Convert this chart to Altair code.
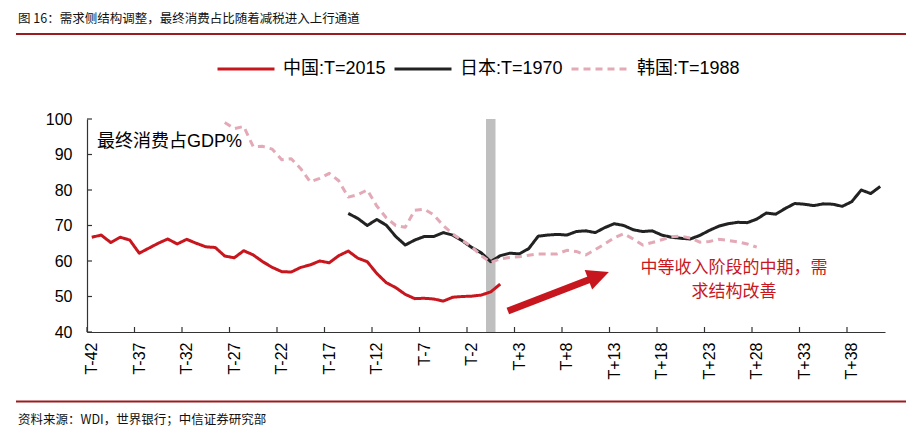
import altair as alt
import pandas as pd

# ---------------- data ----------------
china_T = list(range(-42, 2))
china_vals = [66.7, 67.3, 65.2, 66.7, 65.9, 62.2, 63.6, 65.0, 66.2, 64.8,
              66.1, 65.0, 64.0, 63.8, 61.4, 60.9, 62.9, 61.7, 59.8, 58.2,
              57.0, 56.9, 58.2, 58.9, 60.0, 59.5, 61.5, 62.8, 60.8, 59.8,
              56.5, 53.9, 52.5, 50.6, 49.4, 49.5, 49.3, 48.7, 49.8, 50.0,
              50.1, 50.4, 51.3, 53.5]
japan_T = list(range(-15, 42))
japan_vals = [73.4, 72.0, 70.0, 71.7, 70.1, 66.9, 64.5, 65.9, 66.9, 66.9,
              68.0, 67.3, 65.7, 63.8, 62.3, 59.8,
              61.5, 62.2, 62.0, 63.5, 67.0, 67.3, 67.5, 67.3, 68.3, 68.5, 68.0,
              69.4, 70.5, 70.0, 68.8, 68.3, 68.5, 67.3, 66.7, 66.4, 66.2,
              67.2, 68.6, 69.8, 70.5, 70.9, 70.8, 71.8, 73.5, 73.2, 74.8,
              76.2, 76.0, 75.6, 76.1, 76.0, 75.4, 76.7, 80.0, 79.0, 81.0]
korea_T = list(range(-28, 29))
korea_vals = [99.0, 97.3, 97.9, 92.2, 92.3, 91.5, 88.5, 88.8, 86.0, 82.3,
              83.3, 84.7, 82.6, 78.0, 78.7, 80.0,
              75.5, 72.2, 70.0, 69.5, 74.3, 74.6, 73.0, 70.0, 67.6, 65.8, 64.0, 61.5, 59.6,
              60.6, 61.0, 61.2, 61.6, 62.0, 62.0, 62.0, 63.0, 62.7, 61.7, 63.2,
              64.8, 66.5, 67.7, 66.2, 64.5, 65.2, 66.0, 66.8, 67.0, 66.5,
              65.3, 65.5, 66.1, 65.8, 65.4, 64.8, 63.9]

series_names = ["中国:T=2015", "日本:T=1970", "韩国:T=1988"]
series_colors = ["#C8161E", "#222222", "#E3A9B6"]
series_dash = [[1, 0], [1, 0], [7, 5]]
series_width = [3, 3, 3.5]

x_label_vals = list(range(-42, 39, 5))
x_tick_pos = [v - 0.5 for v in x_label_vals]
y_tick_vals = [40, 50, 60, 70, 80, 90, 100]

band_T = [-0.5]
band_T2 = [0.5]
band_lo = [40]
band_hi = [100]

arrow_T = [1.8, 11.36]
arrow_v = [45.9, 55.8]
ann_lines = ["中等收入阶段的中期，需", "求结构改善"]
ann_T = [25.6, 25.6]
ann_v = [58.0, 51.3]

title_text = "图 16：需求侧结构调整，最终消费占比随着减税进入上行通道"
source_text = "资料来源：WDI，世界银行；中信证券研究部"
ylabel_text = "最终消费占GDP%"

# ---------------- build ----------------
W, H = 798, 213
PL, PT = 87, 119
LAT = "Liberation Sans, Noto Sans CJK SC"
CJK = "Noto Sans CJK SC"
RED = "#C8161E"

rows = []
for name, ts, vs in zip(series_names, [china_T, japan_T, korea_T],
                        [china_vals, japan_vals, korea_vals]):
    for t, v in zip(ts, vs):
        rows.append({"series": name, "T": t, "value": v})
df = pd.DataFrame(rows)

xscale = alt.Scale(domain=[-42.5, 41.5], nice=False, zero=False)
yscale = alt.Scale(domain=[40, 100], nice=False, zero=False)

xaxis = alt.Axis(values=x_label_vals,
                 labelExpr="'T' + (datum.value > 0 ? '+' : '') + datum.value",
                 labelAngle=270, labelPadding=10, ticks=False, grid=False,
                 domainColor="#333", domainWidth=1.2,
                 labelFontSize=16, labelFont="Liberation Sans",
                 labelColor="#000", labelFlush=False, labelOverlap=False)
yaxis = alt.Axis(values=y_tick_vals, ticks=False, grid=False,
                 labelPadding=15, domainColor="#333", domainWidth=1.2,
                 labelFontSize=16, labelFont="Liberation Sans",
                 labelColor="#000", labelFlush=False, labelOverlap=False)

X = alt.X("T:Q", scale=xscale, title=None, axis=xaxis)
Y = alt.Y("value:Q", scale=yscale, title=None, axis=yaxis)

legend = alt.Legend(title=None, orient="none", legendX=129, legendY=-80,
                    direction="horizontal", symbolType="stroke",
                    symbolSize=3249, symbolStrokeWidth=3,
                    labelFontSize=18, labelFont=LAT, labelColor="#000",
                    columnPadding=2, labelOffset=7, padding=0, labelLimit=300)

band = alt.Chart(pd.DataFrame({"T": band_T, "T2": band_T2, "value": band_lo, "value2": band_hi})
                 ).mark_rect(color="#BFBFBF").encode(x=X, x2="T2:Q", y=Y, y2="value2:Q")

lines = alt.Chart(df).mark_line(strokeJoin="round").encode(
    x=X, y=Y,
    color=alt.Color("series:N", scale=alt.Scale(domain=series_names, range=series_colors),
                    legend=legend),
    strokeDash=alt.StrokeDash("series:N", scale=alt.Scale(domain=series_names, range=series_dash),
                              legend=legend),
    strokeWidth=alt.StrokeWidth("series:N", scale=alt.Scale(domain=series_names, range=series_width),
                                legend=None),
)

xticks = alt.Chart(pd.DataFrame({"T": x_tick_pos})).mark_rule(color="#333", strokeWidth=1.2).encode(
    x=X, y=alt.value(H), y2=alt.value(H - 5))

yticks = alt.Chart(pd.DataFrame({"value": y_tick_vals})).mark_rule(color="#333", strokeWidth=1.2).encode(
    y=Y, x=alt.value(0), x2=alt.value(5))

arrow_df = pd.DataFrame({"T": arrow_T, "value": arrow_v})
arrow_shaft = alt.Chart(arrow_df).mark_line(color=RED, strokeWidth=7, strokeCap="butt").encode(x=X, y=Y)
arrow_head = alt.Chart(arrow_df.tail(1)).mark_point(
    shape="M1,0L-1,-0.95L-1,0.95Z", filled=True, color=RED, opacity=1,
    size=480, angle=339, strokeWidth=0).encode(x=X, y=Y)

ann = alt.Chart(pd.DataFrame({"T": ann_T, "value": ann_v, "label": ann_lines})).mark_text(
    align="center", baseline="middle", fontSize=17, font=CJK, color=RED).encode(
    x=X, y=Y, text="label:N")

ylab = alt.Chart(pd.DataFrame({"label": [ylabel_text]})).mark_text(
    align="left", baseline="middle", fontSize=18, font=LAT, color="#000").encode(
    x=alt.value(97 - PL), y=alt.value(142 - PT), text="label:N")

title = alt.Chart(pd.DataFrame({"label": [title_text]})).mark_text(
    align="left", baseline="middle", fontSize=12.5, font=CJK, color="#111").encode(
    x=alt.value(18 - PL), y=alt.value(19 - PT), text="label:N")

source = alt.Chart(pd.DataFrame({"label": [source_text]})).mark_text(
    align="left", baseline="middle", fontSize=12.5, font=CJK, color="#111").encode(
    x=alt.value(18 - PL), y=alt.value(420 - PT), text="label:N")

rule_top = alt.Chart(pd.DataFrame({"k": [0]})).mark_rule(color="#9B1B1F", strokeWidth=2).encode(
    x=alt.value(16 - PL), x2=alt.value(906 - PL), y=alt.value(34 - PT))
rule_bot = alt.Chart(pd.DataFrame({"k": [0]})).mark_rule(color="#9B1B1F", strokeWidth=2).encode(
    x=alt.value(16 - PL), x2=alt.value(906 - PL), y=alt.value(401.5 - PT))

chart = alt.layer(
    band, lines, xticks, yticks, arrow_shaft, arrow_head, ann, ylab,
    title, source, rule_top, rule_bot
).properties(
    width=W, height=H,
    autosize=alt.AutoSizeParams(type="none"),
    padding={"left": PL, "top": PT, "right": 913 - PL - W, "bottom": 438 - PT - H},
    background="white",
).configure_view(stroke=None)

chart.save("out.html", embed_options={"renderer": "svg", "actions": False})
